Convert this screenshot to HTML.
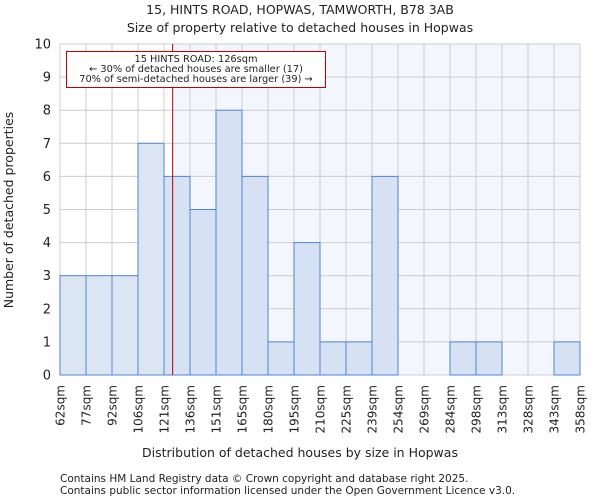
<!DOCTYPE html>
<html><head><meta charset="utf-8"><style>
body{margin:0;background:#fff;font-family:"DejaVu Sans","Liberation Sans",sans-serif;}
svg text{font-family:"DejaVu Sans","Liberation Sans",sans-serif;fill:#222;}
</style></head><body>
<svg id="chart" width="600" height="500">
<text x="300" y="14" font-size="12.5" text-anchor="middle">15, HINTS ROAD, HOPWAS, TAMWORTH, B78 3AB</text>
<text x="300" y="32" font-size="12.5" text-anchor="middle">Size of property relative to detached houses in Hopwas</text>
<g id="plot"></g>
<text x="300" y="457" font-size="12.5" text-anchor="middle">Distribution of detached houses by size in Hopwas</text>
<text transform="translate(13,210) rotate(-90)" font-size="12.5" text-anchor="middle">Number of detached properties</text>
<text x="60" y="482" font-size="10.5" fill="#444">Contains HM Land Registry data © Crown copyright and database right 2025.</text>
<text x="60" y="494" font-size="10.5" fill="#444">Contains public sector information licensed under the Open Government Licence v3.0.</text>
</svg>
<script>
const binLabels=["62sqm","77sqm","92sqm","106sqm","121sqm","136sqm","151sqm","165sqm","180sqm","195sqm","210sqm","225sqm","239sqm","254sqm","269sqm","284sqm","298sqm","313sqm","328sqm","343sqm","358sqm"];
const binEdges=[62,77,92,106,121,136,151,165,180,195,210,225,239,254,269,284,298,313,328,343,358];
const counts=[3,3,3,7,6,5,8,6,1,4,1,1,6,0,0,1,1,0,0,1];
const yTicks=[0,1,2,3,4,5,6,7,8,9,10];
const propertySize=126;
const L=60,R=580,T=44,B=375,yMax=10;
const n=counts.length,bw=(R-L)/n;
const NS="http://www.w3.org/2000/svg";
const g=document.getElementById('plot');
function y(v){return B-(B-T)*v/yMax;}
function xi(i){return L+i*bw;}
function xv(v){for(let i=0;i<binEdges.length-1;i++){if(v>=binEdges[i]&&v<=binEdges[i+1])return xi(i)+bw*(v-binEdges[i])/(binEdges[i+1]-binEdges[i]);}return v<binEdges[0]?L:R;}
function mk(t,a,txt){const e=document.createElementNS(NS,t);for(const k in a)e.setAttribute(k,a[k]);if(txt!==undefined)e.textContent=txt;g.appendChild(e);return e;}
const px=xv(propertySize);
let e=mk('rect',{x:px,y:T,width:R-px,height:B-T,fill:'#f3f6fd'});


yTicks.forEach(t=>{
 let l=mk('line',{x1:L,x2:R,y1:y(t),y2:y(t),stroke:'#cccccc','stroke-width':1});
 
 
 let tx=mk('text',{x:L-9,y:y(t)+4.5,'font-size':13,'text-anchor':'end'},String(t));
 
 
});
binLabels.forEach((lab,i)=>{
 let l=mk('line',{x1:xi(i),x2:xi(i),y1:T,y2:B,stroke:'#cccccc','stroke-width':1});
 
 
 let tx=mk('text',{transform:`translate(${xi(i)+4.5},${B+10}) rotate(-90)`,'font-size':12,'text-anchor':'end'},lab);
 
 
});
counts.forEach((c,i)=>{
 if(c<=0)return;
 const left=binEdges[i+1]<=propertySize;
 let r=mk('rect',{x:xi(i),y:y(c),width:bw,height:B-y(c),fill:left?'#dce6f2':'#d6e2f3',stroke:'#4f86d4','stroke-width':1});
 
 
});
e=mk('line',{x1:px,x2:px,y1:T,y2:B,stroke:'#b00000','stroke-width':1});


e=mk('rect',{x:66.5,y:51.5,width:259,height:36,fill:'#fff',stroke:'#c00000','stroke-width':1});


[["15 HINTS ROAD: 126sqm",62],["← 30% of detached houses are smaller (17)",72],["70% of semi-detached houses are larger (39) →",82]].forEach((a,i)=>{
 let t=mk('text',{x:196,y:a[1],'font-size':9.8,'text-anchor':'middle'},a[0]);
 
 
});
</script>
</body></html>
